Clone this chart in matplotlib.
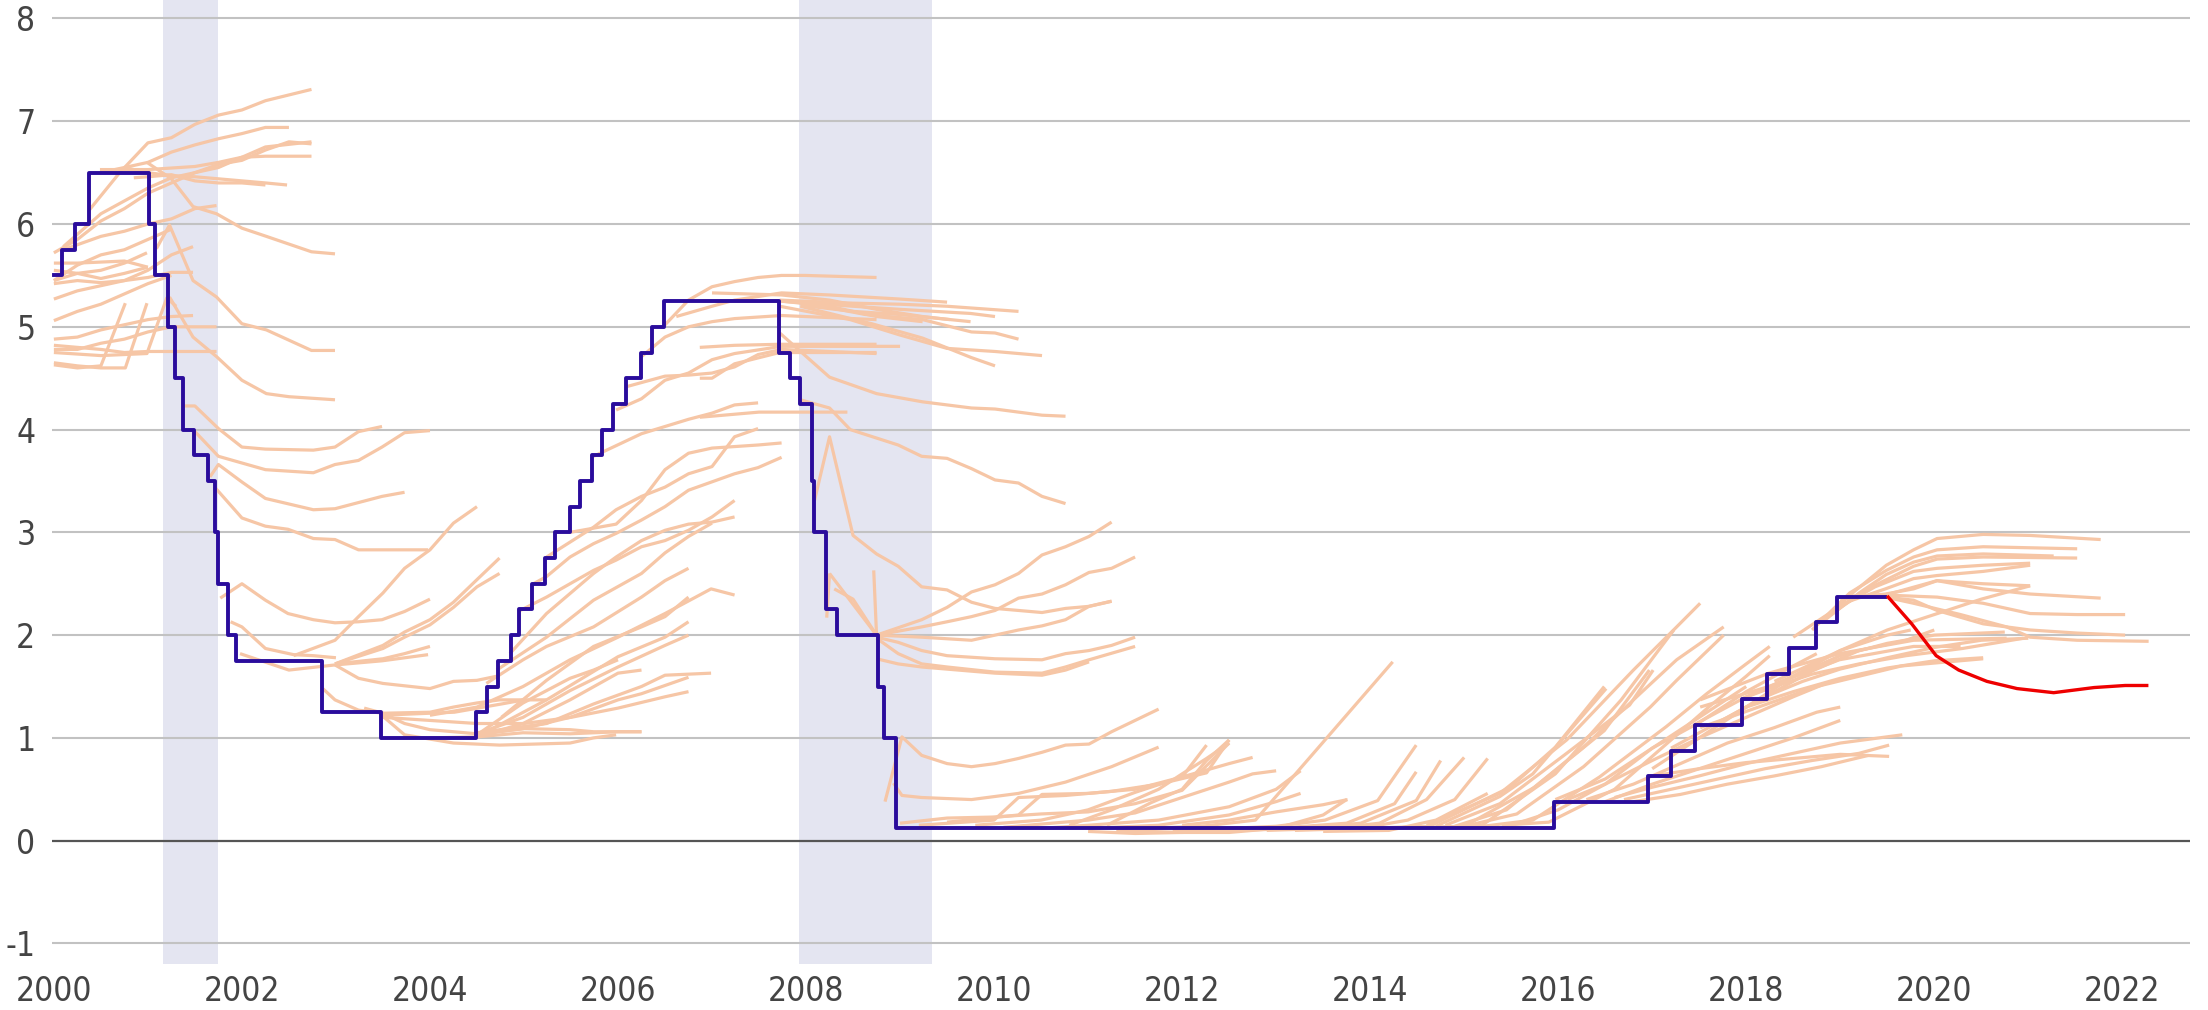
import matplotlib
matplotlib.use("Agg")
import matplotlib.pyplot as plt

plt.rcParams['font.family'] = ['DejaVu Sans']
plt.rcParams['font.stretch'] = 'condensed'
plt.rcParams['axes.unicode_minus'] = False

# Fed funds target (midpoint), step changes: date -> level
fed_dates = [2000.0, 2000.09, 2000.22, 2000.37, 2001.01, 2001.08, 2001.21, 2001.29, 2001.37,
             2001.49, 2001.64, 2001.71, 2001.75, 2001.85, 2001.94, 2002.85, 2003.48,
             2004.49, 2004.61, 2004.72, 2004.86, 2004.95, 2005.09, 2005.22, 2005.33, 2005.49,
             2005.60, 2005.72, 2005.83, 2005.95, 2006.08, 2006.24, 2006.36, 2006.49,
             2007.71, 2007.83, 2007.94, 2008.06, 2008.08, 2008.21, 2008.33, 2008.77, 2008.83,
             2008.96, 2015.96, 2016.95, 2017.20, 2017.45, 2017.95, 2018.22, 2018.45, 2018.74,
             2018.97, 2019.48]
fed_rate = [5.5, 5.75, 6.0, 6.5, 6.0, 5.5, 5.0, 4.5, 4.0,
            3.75, 3.5, 3.0, 2.5, 2.0, 1.75, 1.25, 1.0,
            1.25, 1.5, 1.75, 2.0, 2.25, 2.5, 2.75, 3.0, 3.25,
            3.5, 3.75, 4.0, 4.25, 4.5, 4.75, 5.0, 5.25,
            4.75, 4.5, 4.25, 3.5, 3.0, 2.25, 2.0, 1.5, 1.0,
            0.125, 0.375, 0.625, 0.875, 1.125, 1.375, 1.625, 1.875, 2.125,
            2.375, 2.375]

# current market-implied path
current_years = [2019.51, 2019.76, 2020.02, 2020.26, 2020.56, 2020.88, 2021.27, 2021.70, 2022.03, 2022.26]
current_path = [2.37, 2.11, 1.80, 1.66, 1.55, 1.48, 1.44, 1.49, 1.51, 1.51]

recessions = [(2001.16, 2001.75), (2007.92, 2009.34)]

# historical market-implied paths, grouped by period: (year, rate) points
curves_1999 = [
    [(2000.0, 5.62), (2000.25, 5.62), (2000.75, 5.64), (2001.0, 5.58)],
    [(2000.0, 5.55), (2000.25, 5.52), (2000.5, 5.47), (2000.75, 5.52), (2001.0, 5.58)],
    [(2000.0, 5.45), (2000.25, 5.52), (2000.5, 5.55), (2000.75, 5.62), (2000.99, 5.72)],
    [(2000.0, 5.42), (2000.25, 5.45), (2000.5, 5.43), (2000.75, 5.45), (2001.0, 5.48), (2001.25, 5.53), (2001.48, 5.53)],
    [(2000.0, 5.27), (2000.25, 5.35), (2000.5, 5.4), (2000.75, 5.45), (2001.0, 5.55), (2001.25, 5.7), (2001.48, 5.78)],
    [(2000.0, 5.06), (2000.25, 5.15), (2000.5, 5.22), (2000.75, 5.32), (2001.0, 5.42), (2001.25, 5.5)],
    [(2000.0, 4.88), (2000.25, 4.9), (2000.5, 4.97), (2000.75, 5.02), (2001.0, 5.07), (2001.25, 5.1), (2001.48, 5.11)],
    [(2000.0, 4.82), (2000.5, 4.78), (2000.75, 4.75), (2001.0, 4.76), (2001.73, 4.76)],
    [(2000.0, 4.78), (2000.25, 4.78), (2000.5, 4.84), (2000.75, 4.88), (2001.0, 4.95), (2001.25, 5.0), (2001.73, 5.0)],
    [(2000.0, 4.63), (2000.25, 4.6), (2000.5, 4.62), (2000.76, 5.23)],
    [(2000.0, 4.65), (2000.25, 4.62), (2000.5, 4.6), (2000.76, 4.6), (2000.99, 5.23)],
    [(2000.0, 4.75), (2000.5, 4.72), (2000.99, 4.74), (2001.2, 5.28), (2001.3, 5.2)],
]

curves_2000 = [
    [(2000.38, 6.14), (2000.7, 6.5), (2001.0, 6.79), (2001.25, 6.84), (2001.5, 6.97), (2001.75, 7.06), (2002.0, 7.11), (2002.25, 7.2), (2002.74, 7.31)],
    [(2000.49, 6.5), (2000.75, 6.55), (2001.0, 6.6), (2001.25, 6.7), (2001.5, 6.77), (2001.75, 6.83), (2002.0, 6.88), (2002.25, 6.94), (2002.5, 6.94)],
    [(2000.49, 6.53), (2001.0, 6.53), (2001.5, 6.56), (2001.75, 6.6), (2002.0, 6.65), (2002.25, 6.66), (2002.74, 6.66)],
    [(2000.1, 5.78), (2000.5, 6.1), (2001.0, 6.35), (2001.25, 6.45), (2001.5, 6.5), (2001.75, 6.58), (2002.0, 6.62), (2002.25, 6.72), (2002.5, 6.8), (2002.74, 6.78)],
    [(2000.0, 5.72), (2000.25, 5.85), (2000.5, 6.03), (2000.75, 6.15), (2001.0, 6.3), (2001.25, 6.4), (2001.5, 6.5), (2001.75, 6.55), (2002.0, 6.65), (2002.25, 6.75), (2002.74, 6.8)],
    [(2000.75, 6.55), (2001.0, 6.5), (2001.25, 6.47), (2001.5, 6.46), (2001.75, 6.44), (2002.0, 6.42), (2002.25, 6.4), (2002.48, 6.38)],
    [(2000.85, 6.45), (2001.0, 6.46), (2001.25, 6.48), (2001.5, 6.42), (2001.75, 6.4), (2002.0, 6.4), (2002.25, 6.38)],
    [(2000.1, 5.75), (2000.5, 5.88), (2000.75, 5.93), (2001.0, 6.0), (2001.25, 6.05), (2001.5, 6.15), (2001.73, 6.18)],
    [(2000.0, 5.45), (2000.25, 5.6), (2000.5, 5.7), (2000.75, 5.75), (2001.0, 5.85), (2001.25, 5.95)],
]

curves_2001 = [
    [(2000.99, 6.6), (2001.25, 6.44), (2001.48, 6.17), (2001.73, 6.1), (2002.0, 5.96), (2002.26, 5.88), (2002.74, 5.73), (2002.99, 5.71)],
    [(2001.09, 5.76), (2001.23, 5.99), (2001.48, 5.45), (2001.73, 5.29), (2002.0, 5.03), (2002.26, 4.97), (2002.74, 4.77), (2002.99, 4.77)],
    [(2001.23, 5.29), (2001.48, 4.9), (2001.73, 4.71), (2002.0, 4.48), (2002.26, 4.35), (2002.5, 4.32), (2002.99, 4.29)],
    [(2001.39, 4.23), (2001.5, 4.23), (2001.75, 4.01), (2002.0, 3.83), (2002.25, 3.81), (2002.76, 3.8), (2002.99, 3.83), (2003.24, 3.98), (2003.49, 4.03)],
    [(2001.48, 4.0), (2001.75, 3.74), (2002.25, 3.61), (2002.76, 3.58), (2002.99, 3.66), (2003.24, 3.7), (2003.49, 3.83), (2003.73, 3.97), (2004.0, 3.99)],
    [(2001.66, 3.54), (2001.75, 3.66), (2002.0, 3.49), (2002.25, 3.33), (2002.76, 3.22), (2002.99, 3.23), (2003.49, 3.35), (2003.73, 3.39)],
    [(2001.71, 3.44), (2002.0, 3.14), (2002.25, 3.06), (2002.49, 3.03), (2002.76, 2.94), (2002.99, 2.93), (2003.24, 2.83), (2003.5, 2.83), (2003.98, 2.83)],
    [(2001.77, 2.36), (2002.0, 2.5), (2002.25, 2.34), (2002.49, 2.21), (2002.76, 2.15), (2002.99, 2.12), (2003.24, 2.13), (2003.49, 2.15), (2003.73, 2.23), (2004.0, 2.35)],
    [(2001.88, 2.13), (2002.0, 2.08), (2002.25, 1.87), (2002.55, 1.81), (2002.76, 1.8), (2003.0, 1.78)],
]

curves_2002 = [
    [(2002.55, 1.8), (2002.99, 1.95), (2003.24, 2.18), (2003.5, 2.41), (2003.73, 2.65), (2004.0, 2.83), (2004.25, 3.09), (2004.5, 3.25)],
    [(2002.99, 1.72), (2003.5, 1.9), (2003.73, 2.03), (2004.0, 2.15), (2004.25, 2.32), (2004.5, 2.54), (2004.74, 2.75)],
    [(2002.99, 1.72), (2003.5, 1.87), (2003.73, 1.98), (2004.0, 2.1), (2004.25, 2.27), (2004.5, 2.47), (2004.74, 2.6)],
    [(2002.99, 1.72), (2003.5, 1.77), (2003.73, 1.82), (2004.0, 1.89)],
    [(2002.99, 1.71), (2003.24, 1.58), (2003.5, 1.53), (2004.0, 1.48), (2004.25, 1.55), (2004.5, 1.56), (2004.71, 1.6)],
    [(2001.98, 1.82), (2002.5, 1.66), (2002.99, 1.71), (2003.49, 1.75), (2003.98, 1.81)],
    [(2002.86, 1.48), (2002.99, 1.37), (2003.24, 1.27), (2003.5, 1.24), (2004.0, 1.25), (2004.25, 1.3), (2004.5, 1.34), (2004.74, 1.37), (2005.24, 1.37)],
    [(2003.3, 1.29), (2003.5, 1.24), (2003.73, 1.14), (2004.0, 1.08), (2004.5, 1.04), (2005.0, 1.09), (2005.49, 1.08), (2005.74, 1.06), (2006.25, 1.06)],
    [(2003.5, 1.21), (2003.73, 1.03), (2004.25, 0.95), (2004.74, 0.93), (2005.49, 0.95), (2005.74, 1.0), (2005.98, 1.03)],
    [(2003.47, 1.22), (2004.26, 1.25), (2004.76, 1.33), (2005.0, 1.37)],
    [(2003.5, 1.2), (2004.0, 1.17), (2004.5, 1.14), (2005.0, 1.14), (2005.5, 1.2), (2006.0, 1.29), (2006.5, 1.4), (2006.75, 1.45)],
]

curves_2004 = [
    [(2004.5, 1.03), (2004.99, 1.09), (2005.49, 1.2), (2006.0, 1.37), (2006.25, 1.43), (2006.5, 1.51), (2006.75, 1.59)],
    [(2004.5, 1.05), (2005.24, 1.14), (2005.74, 1.33), (2006.25, 1.5), (2006.5, 1.61), (2006.99, 1.63)],
    [(2004.0, 1.0), (2004.5, 1.01), (2004.99, 1.05), (2005.49, 1.04), (2006.0, 1.06), (2006.25, 1.06)],
    [(2004.5, 1.01), (2004.99, 1.14), (2005.49, 1.37), (2006.0, 1.63), (2006.25, 1.66)],
    [(2004.5, 1.04), (2004.99, 1.2), (2005.49, 1.46), (2006.0, 1.69), (2006.5, 1.9), (2006.75, 2.0)],
    [(2004.5, 1.03), (2004.99, 1.34), (2005.49, 1.58), (2005.74, 1.66), (2006.0, 1.76)],
    [(2004.5, 1.01), (2005.24, 1.37), (2006.0, 1.79), (2006.5, 1.98), (2006.75, 2.13)],
    [(2004.76, 1.2), (2005.24, 1.56), (2005.74, 1.89), (2006.25, 2.08), (2006.5, 2.18), (2006.75, 2.37)],
    [(2004.0, 1.22), (2004.5, 1.3), (2004.99, 1.5), (2005.49, 1.76), (2006.0, 1.98), (2006.5, 2.21), (2006.99, 2.45), (2007.24, 2.39)],
    [(2004.6, 1.53), (2004.99, 1.76), (2005.24, 1.89), (2005.74, 2.08), (2006.25, 2.37), (2006.5, 2.53), (2006.75, 2.65)],
    [(2004.71, 1.66), (2005.24, 1.98), (2005.74, 2.34), (2006.25, 2.6), (2006.5, 2.8), (2006.75, 2.96), (2007.0, 3.09)],
    [(2004.85, 1.82), (2005.24, 2.21), (2005.74, 2.6), (2005.98, 2.76), (2006.25, 2.92), (2006.5, 3.02), (2006.75, 3.08), (2007.0, 3.1), (2007.24, 3.15)],
    [(2004.96, 2.24), (2005.24, 2.37), (2005.49, 2.5), (2005.74, 2.63), (2005.98, 2.73), (2006.25, 2.86), (2006.5, 2.92), (2006.75, 3.02), (2007.0, 3.15), (2007.24, 3.31)],
    [(2005.1, 2.5), (2005.24, 2.57), (2005.49, 2.76), (2005.74, 2.89), (2005.98, 2.99), (2006.25, 3.12), (2006.5, 3.25), (2006.75, 3.41), (2007.24, 3.57), (2007.49, 3.63), (2007.74, 3.73)],
    [(2005.24, 2.76), (2005.74, 3.05), (2005.98, 3.22), (2006.25, 3.35), (2006.5, 3.44), (2006.75, 3.57), (2007.0, 3.64), (2007.24, 3.93), (2007.49, 4.01)],
    [(2005.49, 3.0), (2005.98, 3.08), (2006.25, 3.31), (2006.5, 3.61), (2006.75, 3.77), (2007.0, 3.82), (2007.49, 3.85), (2007.74, 3.87)],
    [(2005.74, 3.74), (2006.25, 3.96), (2006.5, 4.03), (2006.75, 4.1), (2007.0, 4.16), (2007.24, 4.24), (2007.49, 4.26)],
    [(2005.98, 4.19), (2006.25, 4.3), (2006.5, 4.48), (2006.75, 4.55), (2007.0, 4.68), (2007.24, 4.74), (2007.74, 4.81), (2008.75, 4.81), (2009.0, 4.81)],
    [(2006.1, 4.42), (2006.5, 4.52), (2006.75, 4.53), (2007.0, 4.55), (2007.24, 4.61), (2007.49, 4.73), (2007.74, 4.78), (2008.75, 4.74)],
    [(2006.25, 4.71), (2006.5, 4.9), (2006.75, 5.0), (2007.0, 5.05), (2007.24, 5.08), (2007.74, 5.11), (2008.75, 5.07)],
]

curves_2006 = [
    [(2006.48, 5.0), (2006.75, 5.26), (2007.0, 5.39), (2007.24, 5.44), (2007.49, 5.48), (2007.74, 5.5), (2007.99, 5.5), (2008.75, 5.48)],
    [(2006.62, 5.1), (2007.0, 5.2), (2007.24, 5.26), (2007.74, 5.33), (2008.25, 5.31), (2009.0, 5.27), (2009.5, 5.24)],
    [(2006.9, 5.25), (2007.74, 5.25), (2008.25, 5.2), (2008.75, 5.1), (2009.24, 5.05)],
    [(2007.0, 5.33), (2007.74, 5.31), (2008.25, 5.26), (2008.75, 5.17), (2009.24, 5.1), (2009.53, 5.07)],
    [(2007.72, 5.26), (2008.5, 5.23), (2009.0, 5.22), (2009.5, 5.2), (2010.26, 5.15)],
    [(2007.72, 5.25), (2008.5, 5.2), (2009.0, 5.17), (2009.75, 5.13), (2010.01, 5.1)],
    [(2007.94, 5.21), (2008.5, 5.15), (2009.0, 5.12), (2009.75, 5.05)],
    [(2007.94, 5.24), (2008.63, 5.12), (2009.24, 5.07), (2009.76, 4.95), (2010.01, 4.94), (2010.26, 4.88)],
    [(2007.94, 5.2), (2008.7, 5.03), (2009.24, 4.89), (2009.76, 4.7), (2010.01, 4.62)],
    [(2007.72, 5.2), (2008.47, 5.07), (2009.0, 4.92), (2009.5, 4.79), (2010.01, 4.76), (2010.51, 4.72)],
    [(2007.72, 4.94), (2008.25, 4.51), (2008.75, 4.35), (2009.24, 4.27), (2009.76, 4.21), (2010.01, 4.2), (2010.51, 4.14), (2010.76, 4.13)],
    [(2007.94, 4.29), (2008.25, 4.21), (2008.47, 4.0), (2008.98, 3.85), (2009.23, 3.74), (2009.5, 3.72), (2009.76, 3.62), (2010.01, 3.51), (2010.26, 3.48), (2010.51, 3.35), (2010.76, 3.28)],
    [(2006.87, 4.12), (2007.5, 4.17), (2008.0, 4.17), (2008.44, 4.17)],
    [(2006.87, 4.8), (2007.24, 4.82), (2007.72, 4.83), (2008.75, 4.83)],
    [(2006.87, 4.5), (2007.0, 4.5), (2007.24, 4.64), (2007.72, 4.75), (2008.75, 4.75)],
]

curves_2008 = [
    [(2008.09, 3.31), (2008.25, 3.93), (2008.5, 2.97), (2008.75, 2.79), (2008.98, 2.67), (2009.23, 2.47), (2009.5, 2.44), (2009.76, 2.32), (2010.01, 2.26), (2010.51, 2.22), (2010.76, 2.26), (2011.01, 2.28), (2011.25, 2.33)],
    [(2008.25, 2.6), (2008.5, 2.3), (2008.75, 2.0)],
    [(2008.3, 2.45), (2008.5, 2.35), (2008.75, 2.0)],
    [(2008.72, 2.63), (2008.75, 2.0)],
    [(2008.22, 2.17), (2008.25, 2.6)],
    [(2008.75, 2.0), (2009.23, 2.15), (2009.5, 2.27), (2009.76, 2.42), (2010.01, 2.49), (2010.26, 2.6), (2010.51, 2.78), (2010.76, 2.86), (2011.01, 2.96), (2011.25, 3.1)],
    [(2008.75, 2.0), (2009.23, 2.08), (2009.5, 2.13), (2009.76, 2.18), (2010.01, 2.24), (2010.26, 2.36), (2010.51, 2.4), (2010.76, 2.49), (2011.01, 2.61), (2011.25, 2.65), (2011.5, 2.76)],
    [(2008.75, 2.0), (2009.23, 1.98), (2009.76, 1.95), (2010.01, 2.0), (2010.26, 2.05), (2010.51, 2.09), (2010.76, 2.15), (2011.01, 2.28), (2011.25, 2.33)],
    [(2008.75, 1.98), (2008.98, 1.93), (2009.23, 1.85), (2009.5, 1.8), (2010.01, 1.77), (2010.51, 1.76), (2010.76, 1.82), (2011.01, 1.85), (2011.25, 1.9), (2011.5, 1.98)],
    [(2008.75, 1.97), (2008.98, 1.82), (2009.23, 1.72), (2009.5, 1.69), (2010.01, 1.64), (2010.51, 1.63), (2010.76, 1.69), (2011.01, 1.76), (2011.5, 1.89)],
    [(2008.75, 1.77), (2008.98, 1.72), (2009.23, 1.69), (2010.01, 1.63), (2010.51, 1.61), (2010.76, 1.66), (2011.01, 1.74)],
    [(2008.84, 0.38), (2009.02, 1.01), (2009.23, 0.83), (2009.5, 0.75), (2009.76, 0.72), (2010.01, 0.75), (2010.26, 0.8), (2010.51, 0.86), (2010.76, 0.93), (2011.01, 0.94), (2011.25, 1.06), (2011.5, 1.17), (2011.75, 1.28)],
    [(2008.93, 0.56), (2009.02, 0.44), (2009.23, 0.42), (2009.76, 0.4), (2010.26, 0.46), (2010.76, 0.57), (2011.25, 0.72), (2011.75, 0.91)],
]

curves_2009 = [
    [(2009.0, 0.17), (2009.5, 0.22), (2010.0, 0.23), (2010.5, 0.26), (2011.0, 0.28), (2011.5, 0.36), (2012.0, 0.49), (2012.5, 0.95)],
    [(2009.2, 0.15), (2010.0, 0.2), (2010.26, 0.42), (2010.76, 0.44), (2011.25, 0.48), (2011.75, 0.55), (2012.26, 0.66), (2012.5, 0.98)],
    [(2009.5, 0.18), (2010.26, 0.25), (2010.51, 0.45), (2011.0, 0.46), (2011.5, 0.5), (2012.0, 0.62), (2012.26, 0.93)],
    [(2009.8, 0.15), (2010.5, 0.2), (2011.0, 0.3), (2011.5, 0.47), (2012.0, 0.62), (2012.5, 0.75), (2012.75, 0.81)],
    [(2010.1, 0.13), (2011.0, 0.2), (2011.5, 0.27), (2012.0, 0.42), (2012.5, 0.57), (2012.75, 0.65), (2013.0, 0.68)],
    [(2010.5, 0.12), (2011.0, 0.15), (2011.75, 0.2), (2012.5, 0.33), (2013.0, 0.5), (2013.26, 0.68)],
    [(2011.0, 0.12), (2011.75, 0.15), (2012.5, 0.25), (2013.0, 0.38), (2013.26, 0.46)],
    [(2011.3, 0.1), (2012.0, 0.08), (2012.5, 0.08), (2013.0, 0.12), (2013.5, 0.25), (2013.75, 0.4)],
    [(2010.8, 0.15), (2011.25, 0.3), (2011.75, 0.5), (2012.0, 0.65), (2012.26, 0.8), (2012.5, 0.95)],
    [(2011.2, 0.15), (2011.67, 0.37), (2012.0, 0.5), (2012.26, 0.78), (2012.5, 0.98)],
    [(2011.0, 0.09), (2011.5, 0.07), (2012.0, 0.08), (2012.5, 0.1)],
    [(2012.0, 0.15), (2012.5, 0.2), (2013.0, 0.28), (2013.5, 0.35), (2013.76, 0.4)],
]

curves_2012 = [
    [(2011.6, 0.12), (2012.2, 0.14), (2012.78, 0.2), (2013.52, 0.98), (2014.24, 1.74)],
    [(2011.9, 0.1), (2012.5, 0.12), (2013.0, 0.14), (2013.52, 0.2), (2014.08, 0.39), (2014.49, 0.93)],
    [(2012.3, 0.1), (2013.0, 0.12), (2013.75, 0.17), (2014.26, 0.36), (2014.49, 0.67)],
    [(2012.6, 0.1), (2013.3, 0.12), (2013.9, 0.17), (2014.49, 0.39), (2014.75, 0.78)],
    [(2012.9, 0.1), (2013.6, 0.12), (2014.1, 0.17), (2014.6, 0.4), (2015.0, 0.81)],
    [(2013.2, 0.1), (2013.9, 0.12), (2014.4, 0.2), (2014.9, 0.4), (2015.25, 0.8)],
    [(2013.5, 0.09), (2014.2, 0.1), (2014.7, 0.2), (2015.25, 0.46)],
    [(2013.9, 0.12), (2014.63, 0.14), (2015.49, 0.52), (2015.97, 0.91), (2016.49, 1.5)],
    [(2014.2, 0.12), (2015.0, 0.14), (2015.75, 0.52), (2016.49, 1.07), (2016.97, 1.66)],
    [(2014.5, 0.12), (2015.19, 0.15), (2015.97, 0.65), (2016.67, 1.37), (2017.23, 2.05)],
    [(2014.7, 0.14), (2015.38, 0.43), (2015.73, 0.65), (2016.16, 1.11), (2016.51, 1.48)],
    [(2014.6, 0.15), (2015.38, 0.46), (2016.09, 0.98), (2016.8, 1.66), (2017.26, 2.08), (2017.51, 2.31)],
    [(2014.8, 0.15), (2015.38, 0.36), (2016.09, 0.85), (2016.76, 1.32), (2017.01, 1.66)],
    [(2014.9, 0.14), (2015.45, 0.3), (2016.27, 0.91), (2016.87, 1.43), (2017.26, 1.76), (2017.76, 2.08)],
    [(2015.0, 0.14), (2015.56, 0.26), (2016.27, 0.72), (2016.98, 1.3), (2017.26, 1.56), (2017.76, 2.0)],
    [(2015.2, 0.14), (2015.73, 0.2), (2016.44, 0.62), (2017.15, 1.11), (2017.58, 1.43), (2018.0, 1.72), (2018.25, 1.89)],
    [(2015.4, 0.15), (2015.9, 0.18), (2016.6, 0.5), (2017.1, 0.9), (2017.6, 1.3), (2018.0, 1.6), (2018.25, 1.8)],
    [(2015.5, 0.15), (2016.0, 0.3), (2016.5, 0.55), (2017.0, 0.9), (2017.5, 1.2), (2018.0, 1.5)],
]

curves_2016 = [
    [(2015.97, 0.4), (2016.5, 0.6), (2017.0, 0.9), (2017.5, 1.15), (2018.0, 1.45), (2018.5, 1.7), (2018.75, 1.82)],
    [(2016.1, 0.4), (2016.5, 0.55), (2017.0, 0.78), (2017.5, 1.0), (2018.0, 1.2), (2018.5, 1.4), (2018.9, 1.55)],
    [(2016.3, 0.4), (2016.8, 0.55), (2017.3, 0.75), (2017.8, 0.95), (2018.3, 1.1), (2018.75, 1.25), (2019.0, 1.3)],
    [(2016.5, 0.38), (2017.0, 0.55), (2017.5, 0.7), (2018.0, 0.85), (2018.5, 1.0), (2019.0, 1.17)],
    [(2016.6, 0.42), (2017.0, 0.52), (2017.5, 0.63), (2018.0, 0.75), (2018.5, 0.85), (2019.0, 0.95), (2019.66, 1.03)],
    [(2016.7, 0.4), (2017.2, 0.5), (2017.7, 0.6), (2018.2, 0.7), (2018.7, 0.78), (2019.2, 0.85), (2019.52, 0.93)],
    [(2016.8, 0.38), (2017.3, 0.45), (2017.8, 0.55), (2018.3, 0.63), (2018.8, 0.72), (2019.3, 0.83)],
    [(2017.0, 0.63), (2017.5, 0.7), (2018.0, 0.76), (2018.5, 0.8), (2019.0, 0.84), (2019.52, 0.82)],
    [(2017.0, 0.7), (2017.5, 1.0), (2018.0, 1.3), (2018.5, 1.6), (2019.0, 1.85), (2019.5, 2.0), (2019.75, 2.05)],
    [(2017.2, 0.9), (2017.7, 1.15), (2018.2, 1.4), (2018.7, 1.65), (2019.2, 1.85), (2019.7, 1.95), (2020.0, 2.05)],
    [(2017.45, 1.13), (2018.0, 1.4), (2018.5, 1.6), (2019.0, 1.8), (2019.5, 1.92), (2020.0, 2.0), (2020.75, 2.03)],
    [(2017.7, 1.15), (2018.2, 1.4), (2018.6, 1.55), (2019.0, 1.67), (2019.5, 1.78), (2020.0, 1.88), (2020.5, 1.95), (2021.0, 1.97)],
    [(2017.95, 1.38), (2018.3, 1.5), (2018.7, 1.62), (2019.2, 1.72), (2019.7, 1.8), (2020.3, 1.87), (2020.95, 1.97)],
    [(2018.0, 1.3), (2018.5, 1.45), (2019.0, 1.58), (2019.5, 1.68), (2020.0, 1.75), (2020.52, 1.78)],
    [(2017.51, 1.37), (2018.24, 1.63), (2018.99, 1.82), (2019.78, 1.95), (2020.77, 1.97)],
    [(2017.51, 1.3), (2018.24, 1.5), (2018.99, 1.76), (2019.78, 1.89), (2020.28, 1.89)],
    [(2017.51, 1.1), (2018.75, 1.5), (2019.65, 1.7), (2020.52, 1.77)],
    [(2018.3, 1.55), (2019.0, 1.85), (2019.5, 2.05), (2020.0, 2.2), (2020.5, 2.35), (2021.02, 2.48)],
]

curves_2018 = [
    [(2018.5, 1.98), (2018.88, 2.21), (2019.17, 2.44), (2019.49, 2.68), (2019.78, 2.83), (2020.03, 2.94), (2020.52, 2.98), (2021.02, 2.97), (2021.77, 2.93)],
    [(2018.7, 2.05), (2019.1, 2.41), (2019.49, 2.63), (2019.78, 2.76), (2020.03, 2.83), (2020.52, 2.86), (2021.52, 2.84)],
    [(2018.8, 2.12), (2019.2, 2.41), (2019.49, 2.59), (2019.78, 2.71), (2020.03, 2.77), (2020.52, 2.79), (2021.27, 2.77)],
    [(2018.9, 2.2), (2019.27, 2.44), (2019.78, 2.67), (2020.03, 2.74), (2020.52, 2.76), (2021.52, 2.75)],
    [(2018.95, 2.25), (2019.37, 2.47), (2019.78, 2.62), (2020.03, 2.65), (2020.52, 2.68), (2021.02, 2.7)],
    [(2019.0, 2.3), (2019.48, 2.45), (2019.78, 2.55), (2020.03, 2.58), (2020.52, 2.62), (2021.02, 2.68)],
    [(2019.0, 2.35), (2019.48, 2.4), (2019.78, 2.45), (2020.03, 2.53), (2020.52, 2.5), (2021.02, 2.48)],
    [(2019.1, 2.38), (2019.48, 2.39), (2020.03, 2.53), (2020.52, 2.45), (2021.02, 2.4), (2021.77, 2.36)],
    [(2019.2, 2.38), (2019.48, 2.39), (2020.03, 2.37), (2020.52, 2.31), (2021.02, 2.21), (2021.52, 2.2), (2022.03, 2.2)],
    [(2019.3, 2.38), (2019.48, 2.37), (2019.78, 2.34), (2020.03, 2.24), (2020.52, 2.11), (2021.02, 2.05), (2021.52, 2.02), (2022.03, 2.0)],
    [(2019.35, 2.38), (2019.48, 2.37), (2019.78, 2.31), (2020.28, 2.2), (2020.77, 2.08), (2021.02, 1.98), (2021.52, 1.95), (2022.28, 1.94)],
]

all_curves = (curves_1999 + curves_2000 + curves_2001 + curves_2002 + curves_2004 +
              curves_2006 + curves_2008 + curves_2009 + curves_2012 + curves_2016 + curves_2018)

fig = plt.figure(figsize=(22.08, 10.10), dpi=100)
ax = fig.add_axes([52 / 2208, 46 / 1010, 2138 / 2208, 964 / 1010])

for start, end in recessions:
    ax.axvspan(start, end, color='#e4e5f1', lw=0, zorder=0)

for yv in range(-1, 9):
    if yv == 0:
        ax.axhline(0, color='#555555', lw=1.6, zorder=1)
    else:
        ax.axhline(yv, color='#c2c2c2', lw=1.5, zorder=1)

for c in all_curves:
    xs = [p[0] for p in c]
    ys = [p[1] for p in c]
    ax.plot(xs, ys, color='#f6c6a6', lw=2.3, solid_capstyle='butt', zorder=2)

ax.plot(fed_dates, fed_rate, drawstyle='steps-post', color='#2a0c9c', lw=2.8, zorder=3)
ax.plot(current_years, current_path, color='#ee0000', lw=2.4, zorder=4)

ax.set_xlim(1999.98, 2022.72)
ax.set_ylim(-1.2, 8.18)
ax.set_xticks(range(2000, 2023, 2))
ax.set_yticks(range(-1, 9))
ax.tick_params(axis='both', length=0, labelsize=24, colors='#444444')
ax.tick_params(axis='y', pad=12)
ax.tick_params(axis='x', pad=8)
for s in ax.spines.values():
    s.set_visible(False)

fig.savefig('out.png', dpi=100)
